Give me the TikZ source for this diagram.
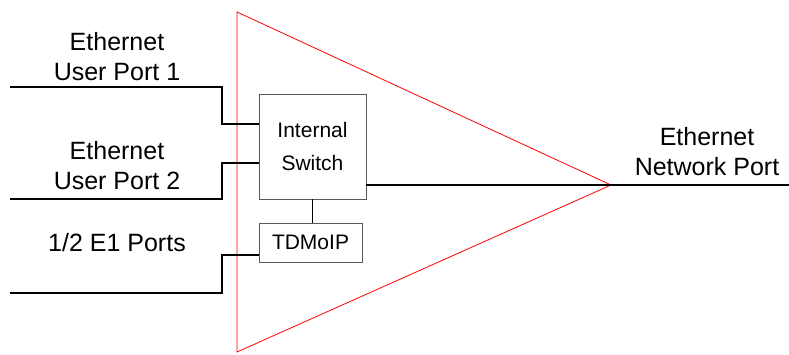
\documentclass[tikz,border=0pt]{standalone}
\usepackage{fontspec}
\setmainfont{Liberation Sans}
\usepackage{xcolor}
\usepackage{tikz}
\usetikzlibrary{positioning,calc}

\tikzset{
  wire/.style={line width=1.6pt, black},
  unitbox/.style={draw=black!65, line width=0.9pt, fill=white, inner sep=0pt},
  portlabel/.style={align=center, font=\fontsize{25}{30}\selectfont},
  boxtext/.style={align=center, font=\fontsize{21}{33}\selectfont}
}

\begin{document}
\begin{tikzpicture}[x=1pt, y=-1pt]
\useasboundingbox (0,0) rectangle (789,354);
% the mux triangle
\draw[red, line width=0.8pt] (237,12) -- (611,185) -- (237,352) -- cycle;
% blocks
\node[unitbox, minimum width=107pt, minimum height=105pt, boxtext] (sw) at (312.5,146.5) {Internal\\Switch};
\node[unitbox, minimum width=103pt, minimum height=39pt, boxtext] (tdm) at (310.5,242.5) {TDMoIP};
% labels
\node[portlabel] (lab1) at (117,57) {Ethernet\\User Port 1};
\node[portlabel] (lab2) at (117,166) {Ethernet\\User Port 2};
\node[portlabel] (lab3) at (117,243) {1/2 E1 Ports};
\node[portlabel] (labnet) at (707,152) {Ethernet\\Network Port};
% wires
\coordinate (in1) at (10,87);
\coordinate (in2) at (10,199);
\coordinate (in3) at (10,293);
\coordinate (net) at (789,185);
\draw[wire] (in1) -- (222,87) |- ([yshift=22.5pt]sw.west);
\draw[wire] (in2) -- (222,199) |- ([yshift=-16.5pt]sw.west);
\draw[wire] (in3) -- (222,293) |- ([yshift=-12.5pt]tdm.west);
\draw[wire] ([yshift=-38.5pt]sw.east) -- (net);
\draw[wire] (sw.south) -- (sw.south |- tdm.north);
\end{tikzpicture}
\end{document}
